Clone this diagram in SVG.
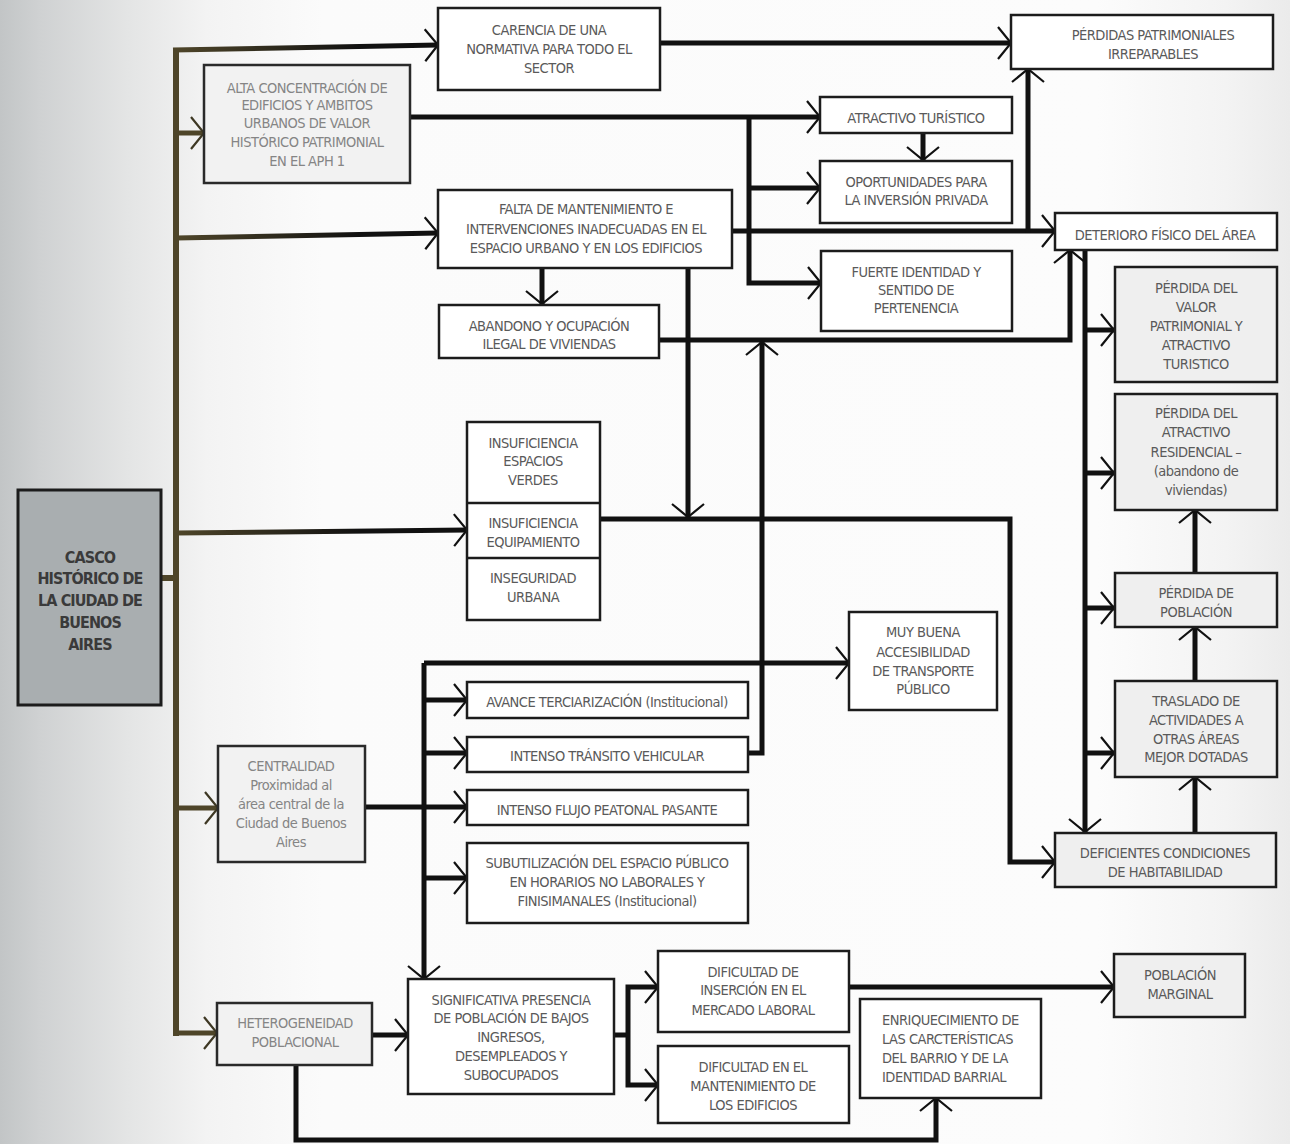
<svg xmlns="http://www.w3.org/2000/svg" width="1290" height="1144" viewBox="0 0 1290 1144">
<defs>
<linearGradient id="bg" x1="0" y1="0" x2="1290" y2="0" gradientUnits="userSpaceOnUse">
<stop offset="0" stop-color="#c2c5c6"/><stop offset="0.03" stop-color="#cfd1d2"/><stop offset="0.1" stop-color="#e4e5e5"/><stop offset="0.16" stop-color="#f3f3f3"/><stop offset="0.25" stop-color="#fbfbfb"/><stop offset="0.85" stop-color="#fcfcfc"/><stop offset="0.95" stop-color="#f3f3f3"/><stop offset="1" stop-color="#ebebeb"/>
</linearGradient>
<linearGradient id="olv" x1="176" y1="0" x2="360" y2="0" gradientUnits="userSpaceOnUse">
<stop offset="0" stop-color="#4e4529"/><stop offset="1" stop-color="#111"/>
</linearGradient>
<marker id="ah" markerUnits="userSpaceOnUse" markerWidth="24" markerHeight="40" viewBox="-20 -20 24 40" refX="0" refY="0" orient="auto">
<path d="M-13,-16 L0,0 L-13,16" fill="none" stroke="#111" stroke-width="2.2"/>
</marker>
<marker id="aho" markerUnits="userSpaceOnUse" markerWidth="24" markerHeight="40" viewBox="-20 -20 24 40" refX="0" refY="0" orient="auto">
<path d="M-13,-16 L0,0 L-13,16" fill="none" stroke="#3e3824" stroke-width="2.2"/>
</marker>
</defs>
<style>
.box{fill:#ffffff;stroke:#1c1c1c;stroke-width:2.5}
.gb{fill:#efefef;stroke:#1c1c1c;stroke-width:2.5}
.lb{fill:#f2f2f2;stroke:#2a2a2a;stroke-width:2.5}
.main{fill:#a9aeb0;stroke:#1c1c1c;stroke-width:3}
text{font-family:"DejaVu Sans Condensed","Liberation Sans Narrow","Liberation Sans",sans-serif;font-size:14.5px;letter-spacing:-0.5px;fill:#5a5a5a;text-anchor:middle}
.lt{fill:#858585}
.mt{font-weight:bold;font-size:16px;letter-spacing:-0.9px;fill:#3a3a3a}
.la{text-anchor:start}
.c{fill:none;stroke:#111;stroke-width:5;marker-end:url(#ah)}
.cn{fill:none;stroke:#111;stroke-width:5}
.t{fill:none;stroke:#4e4529;stroke-width:6}
.to{fill:none;stroke:#4e4529;stroke-width:5;marker-end:url(#aho)}
.tg{fill:none;stroke:url(#olv);stroke-width:5;marker-end:url(#ah)}
</style>
<rect x="0" y="0" width="1290" height="1144" fill="url(#bg)"/>

<g id="connectors">
<path class="t" d="M176,1036 V48"/>
<path class="t" d="M160,578 H176"/>
<path class="tg" d="M173,50 L438,45"/>
<path class="to" d="M176,133 H204"/>
<path class="tg" d="M176,238 L438,233"/>
<path class="tg" d="M176,533 L467,530"/>
<path class="to" d="M176,808 H218"/>
<path class="to" d="M174,1033 H217"/>

<path class="c" d="M660,43 H1011"/>
<path class="c" d="M410,117 H820"/>
<path class="c" d="M749,117 V283 H821"/>
<path class="c" d="M749,188 H820"/>
<path class="c" d="M923,134 V160"/>
<path class="c" d="M732,231 H1055"/>
<path class="c" d="M1028,233 V69"/>
<path class="c" d="M542,268 V304"/>
<path class="c" d="M688,268 V517"/>
<path class="c" d="M659,340 H1070 V250"/>
<path class="c" d="M747,753 H762 V342"/>
<path class="c" d="M600,519 H1010 V862 H1055"/>
<path class="c" d="M1085,250 V832"/>
<path class="c" d="M1085,330 H1114"/>
<path class="c" d="M1085,473 H1114"/>
<path class="c" d="M1085,608 H1114"/>
<path class="c" d="M1085,753 H1114"/>
<path class="c" d="M1195,573 V510"/>
<path class="c" d="M1195,681 V627"/>
<path class="c" d="M1195,833 V777"/>
<path class="c" d="M424,663 H849"/>
<path class="c" d="M424,663 V979"/>
<path class="cn" d="M365,807 H424"/>
<path class="c" d="M424,700 H467"/>
<path class="c" d="M424,753 H467"/>
<path class="c" d="M424,807 H467"/>
<path class="c" d="M424,878 H467"/>
<path class="c" d="M372,1035 H408"/>
<path class="cn" d="M614,1035 H628"/>
<path class="c" d="M628,1035 V987 H658"/>
<path class="c" d="M628,1035 V1085 H658"/>
<path class="c" d="M849,987 H1114"/>
<path class="c" d="M296,1065 V1140 H936 V1098"/>
</g>

<g id="casco"><rect class="main" x="18" y="490" width="143" height="215"/>
<text class="mt" x="90" y="563">CASCO</text><text class="mt" x="90" y="584">HISTÓRICO DE</text><text class="mt" x="90" y="606">LA CIUDAD DE</text><text class="mt" x="90" y="628">BUENOS</text><text class="mt" x="90" y="650">AIRES</text></g>

<g id="carencia"><rect class="box" x="438" y="8" width="222" height="82"/>
<text x="549" y="35">CARENCIA DE UNA</text><text x="549" y="54">NORMATIVA PARA TODO EL</text><text x="549" y="73">SECTOR</text></g>

<g id="perdidas-patrimoniales"><rect class="box" x="1011" y="15" width="262" height="54"/>
<text x="1153" y="40">PÉRDIDAS PATRIMONIALES</text><text x="1153" y="59">IRREPARABLES</text></g>

<g id="alta"><rect class="lb" x="204" y="65" width="206" height="118"/>
<text class="lt" x="307" y="93">ALTA CONCENTRACIÓN DE</text><text class="lt" x="307" y="110">EDIFICIOS Y AMBITOS</text><text class="lt" x="307" y="128">URBANOS DE VALOR</text><text class="lt" x="307" y="147">HISTÓRICO PATRIMONIAL</text><text class="lt" x="307" y="166">EN EL APH 1</text></g>

<g id="atractivo"><rect class="box" x="820" y="97" width="192" height="36"/>
<text x="916" y="123">ATRACTIVO TURÍSTICO</text></g>

<g id="oportunidades"><rect class="box" x="820" y="161" width="192" height="62"/>
<text x="916" y="187">OPORTUNIDADES PARA</text><text x="916" y="205">LA INVERSIÓN PRIVADA</text></g>

<g id="falta"><rect class="box" x="438" y="190" width="294" height="78"/>
<text x="586" y="214">FALTA DE MANTENIMIENTO  E</text><text x="586" y="234">INTERVENCIONES INADECUADAS  EN EL</text><text x="586" y="253">ESPACIO URBANO Y EN LOS EDIFICIOS</text></g>

<g id="deterioro"><rect class="box" x="1055" y="213" width="222" height="37"/>
<text x="1165" y="240">DETERIORO FÍSICO DEL  ÁREA</text></g>

<g id="fuerte"><rect class="box" x="821" y="251" width="191" height="80"/>
<text x="916" y="277">FUERTE IDENTIDAD Y</text><text x="916" y="295">SENTIDO DE</text><text x="916" y="313">PERTENENCIA</text></g>

<g id="abandono"><rect class="box" x="439" y="305" width="220" height="53"/>
<text x="549" y="331">ABANDONO Y OCUPACIÓN</text><text x="549" y="349">ILEGAL DE VIVIENDAS</text></g>

<g id="perdida-valor"><rect class="gb" x="1115" y="267" width="162" height="115"/>
<text x="1196" y="293">PÉRDIDA DEL</text><text x="1196" y="312">VALOR</text><text x="1196" y="331">PATRIMONIAL Y</text><text x="1196" y="350">ATRACTIVO</text><text x="1196" y="369">TURISTICO</text></g>

<g id="insuficiencia"><rect class="box" x="467" y="422" width="133" height="198"/>
<line x1="467" y1="503" x2="600" y2="503" stroke="#1c1c1c" stroke-width="2.5"/>
<line x1="467" y1="558" x2="600" y2="558" stroke="#1c1c1c" stroke-width="2.5"/>
<text x="533" y="448">INSUFICIENCIA</text><text x="533" y="466">ESPACIOS</text><text x="533" y="485">VERDES</text>
<text x="533" y="528">INSUFICIENCIA</text><text x="533" y="547">EQUIPAMIENTO</text>
<text x="533" y="583">INSEGURIDAD</text><text x="533" y="602">URBANA</text></g>

<g id="perdida-residencial"><rect class="gb" x="1115" y="394" width="162" height="116"/>
<text x="1196" y="418">PÉRDIDA DEL</text><text x="1196" y="437">ATRACTIVO</text><text x="1196" y="457">RESIDENCIAL –</text><text x="1196" y="476">(abandono de</text><text x="1196" y="495">viviendas)</text></g>

<g id="perdida-poblacion"><rect class="gb" x="1115" y="573" width="162" height="54"/>
<text x="1196" y="598">PÉRDIDA DE</text><text x="1196" y="617">POBLACIÓN</text></g>

<g id="muy-buena"><rect class="box" x="849" y="612" width="148" height="98"/>
<text x="923" y="637">MUY BUENA</text><text x="923" y="657">ACCESIBILIDAD</text><text x="923" y="676">DE TRANSPORTE</text><text x="923" y="694">PÚBLICO</text></g>

<g id="avance"><rect class="box" x="467" y="682" width="281" height="36"/>
<text x="607" y="707">AVANCE TERCIARIZACIÓN (Institucional)</text></g>

<g id="transito"><rect class="box" x="467" y="737" width="281" height="35"/>
<text x="607" y="761">INTENSO TRÁNSITO VEHICULAR</text></g>

<g id="flujo"><rect class="box" x="467" y="790" width="281" height="35"/>
<text x="607" y="815">INTENSO FLUJO PEATONAL PASANTE</text></g>

<g id="subutilizacion"><rect class="box" x="467" y="843" width="281" height="80"/>
<text x="607" y="868">SUBUTILIZACIÓN DEL ESPACIO PÚBLICO</text><text x="607" y="887">EN HORARIOS NO LABORALES Y</text><text x="607" y="906">FINISIMANALES (Institucional)</text></g>

<g id="centralidad"><rect class="lb" x="218" y="746" width="147" height="116"/>
<text class="lt" x="291" y="771">CENTRALIDAD</text><text class="lt" x="291" y="790">Proximidad al</text><text class="lt" x="291" y="809">área central de la</text><text class="lt" x="291" y="828">Ciudad de Buenos</text><text class="lt" x="291" y="847">Aires</text></g>

<g id="traslado"><rect class="gb" x="1115" y="681" width="162" height="96"/>
<text x="1196" y="706">TRASLADO DE</text><text x="1196" y="725">ACTIVIDADES A</text><text x="1196" y="744">OTRAS ÁREAS</text><text x="1196" y="762">MEJOR DOTADAS</text></g>

<g id="deficientes"><rect class="gb" x="1055" y="833" width="221" height="54"/>
<text x="1165" y="858">DEFICIENTES CONDICIONES</text><text x="1165" y="877">DE HABITABILIDAD</text></g>

<g id="dificultad-insercion"><rect class="box" x="658" y="951" width="191" height="81"/>
<text x="753" y="977">DIFICULTAD DE</text><text x="753" y="995">INSERCIÓN EN EL</text><text x="753" y="1015">MERCADO LABORAL</text></g>

<g id="poblacion-marginal"><rect class="gb" x="1114" y="954" width="131" height="63"/>
<text x="1180" y="980">POBLACIÓN</text><text x="1180" y="999">MARGINAL</text></g>

<g id="heterogeneidad"><rect class="lb" x="217" y="1003" width="155" height="62"/>
<text class="lt" x="295" y="1028">HETEROGENEIDAD</text><text class="lt" x="295" y="1047">POBLACIONAL</text></g>

<g id="significativa"><rect class="box" x="408" y="979" width="206" height="115"/>
<text x="511" y="1005">SIGNIFICATIVA PRESENCIA</text><text x="511" y="1023">DE POBLACIÓN DE BAJOS</text><text x="511" y="1042">INGRESOS,</text><text x="511" y="1061">DESEMPLEADOS  Y</text><text x="511" y="1080">SUBOCUPADOS</text></g>

<g id="enriquecimiento"><rect class="box" x="860" y="999" width="181" height="99"/>
<text class="la" x="882" y="1025">ENRIQUECIMIENTO  DE</text><text class="la" x="882" y="1044">LAS CARCTERÍSTICAS</text><text class="la" x="882" y="1063">DEL BARRIO Y DE LA</text><text class="la" x="882" y="1082">IDENTIDAD BARRIAL</text></g>

<g id="dificultad-mantenimiento"><rect class="box" x="658" y="1046" width="191" height="77"/>
<text x="753" y="1072">DIFICULTAD EN EL</text><text x="753" y="1091">MANTENIMIENTO DE</text><text x="753" y="1110">LOS EDIFICIOS</text></g>
</svg>
